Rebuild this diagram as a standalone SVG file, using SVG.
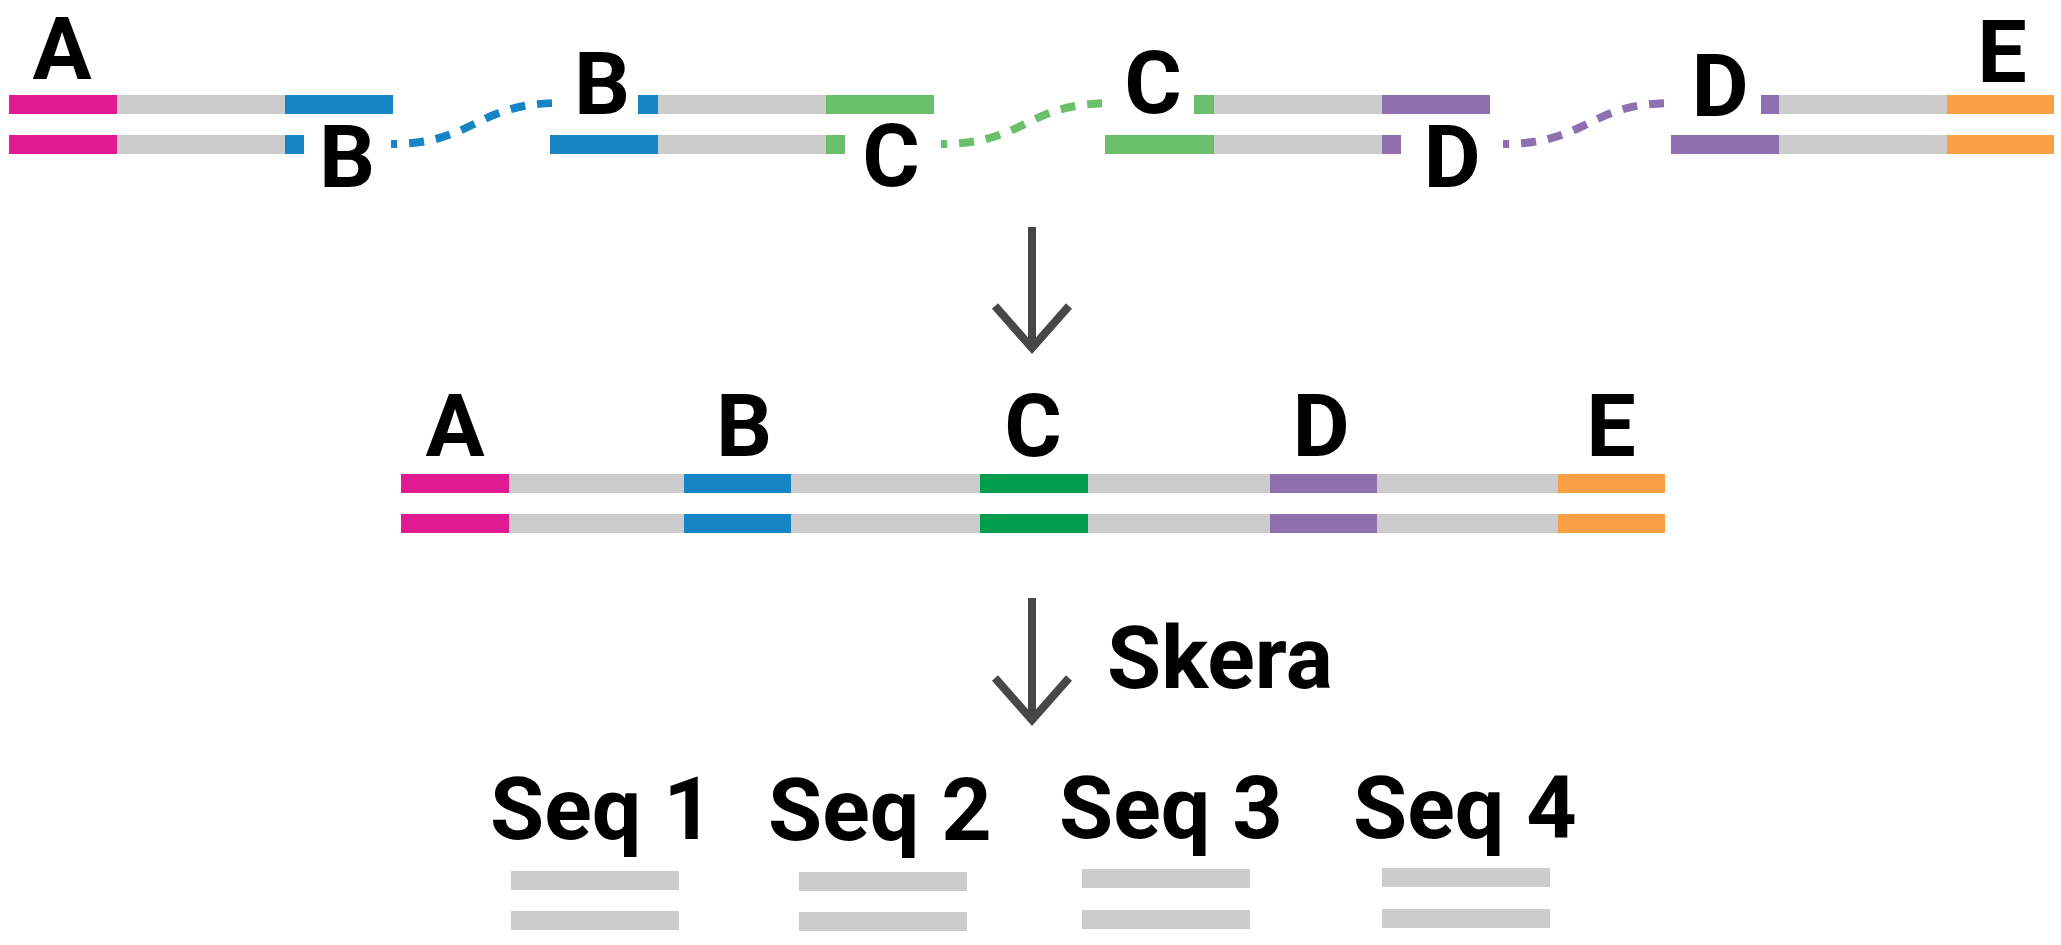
<svg xmlns="http://www.w3.org/2000/svg" width="2061" height="945" viewBox="0 0 2061 945">
<style>
.lbl{font-family:Roboto,"Liberation Sans",sans-serif;font-weight:700;font-size:88px;fill:#000;text-anchor:middle}
.lbs{font-family:Roboto,"Liberation Sans",sans-serif;font-weight:700;font-size:88px;fill:#000}
.g{fill:#cccccc}.m{fill:#e01a93}.b{fill:#1585c6}.lg{fill:#6abf6b}.dg{fill:#009d4f}.p{fill:#8e6fb0}.o{fill:#f8a043}
.dot{fill:none;stroke-width:8;stroke-dasharray:15 12;stroke-dashoffset:9}
.arr{fill:none;stroke:#474747;stroke-width:8}
</style>
<rect width="2061" height="945" fill="#fff"/>
<g id="strand1">
<rect class="m" x="9" y="95" width="108" height="19"/><rect class="g" x="117" y="95" width="168" height="19"/><rect class="b" x="285" y="95" width="108" height="19"/>
<rect class="m" x="9" y="135" width="108" height="19"/><rect class="g" x="117" y="135" width="168" height="19"/><rect class="b" x="285" y="135" width="19" height="19"/>
<text class="lbl" x="62" y="79">A</text>
<text class="lbl" x="347" y="187">B</text>
</g>
<g id="strand2">
<rect class="b" x="638" y="95" width="20" height="19"/><rect class="g" x="658" y="95" width="168" height="19"/><rect class="lg" x="826" y="95" width="108" height="19"/>
<rect class="b" x="550" y="135" width="108" height="19"/><rect class="g" x="658" y="135" width="168" height="19"/><rect class="lg" x="826" y="135" width="19" height="19"/>
<text class="lbl" x="602" y="114">B</text>
<text class="lbl" x="891" y="186">C</text>
</g>
<g id="strand3">
<rect class="lg" x="1194" y="95" width="20" height="19"/><rect class="g" x="1214" y="95" width="168" height="19"/><rect class="p" x="1382" y="95" width="108" height="19"/>
<rect class="lg" x="1105" y="135" width="109" height="19"/><rect class="g" x="1214" y="135" width="168" height="19"/><rect class="p" x="1382" y="135" width="19" height="19"/>
<text class="lbl" x="1153" y="113">C</text>
<text class="lbl" x="1452" y="187">D</text>
</g>
<g id="strand4">
<rect class="p" x="1761" y="95" width="18" height="19"/><rect class="g" x="1779" y="95" width="168" height="19"/><rect class="o" x="1947" y="95" width="107" height="19"/>
<rect class="p" x="1671" y="135" width="108" height="19"/><rect class="g" x="1779" y="135" width="168" height="19"/><rect class="o" x="1947" y="135" width="107" height="19"/>
<text class="lbl" x="1720" y="116">D</text>
<text class="lbl" x="2002" y="82">E</text>
</g>
<g id="merged">
<rect class="m" x="401" y="474" width="108" height="19"/><rect class="g" x="509" y="474" width="175" height="19"/><rect class="b" x="684" y="474" width="107" height="19"/><rect class="g" x="791" y="474" width="189" height="19"/><rect class="dg" x="980" y="474" width="108" height="19"/><rect class="g" x="1088" y="474" width="182" height="19"/><rect class="p" x="1270" y="474" width="107" height="19"/><rect class="g" x="1377" y="474" width="181" height="19"/><rect class="o" x="1558" y="474" width="107" height="19"/>
<rect class="m" x="401" y="514" width="108" height="19"/><rect class="g" x="509" y="514" width="175" height="19"/><rect class="b" x="684" y="514" width="107" height="19"/><rect class="g" x="791" y="514" width="189" height="19"/><rect class="dg" x="980" y="514" width="108" height="19"/><rect class="g" x="1088" y="514" width="182" height="19"/><rect class="p" x="1270" y="514" width="107" height="19"/><rect class="g" x="1377" y="514" width="181" height="19"/><rect class="o" x="1558" y="514" width="107" height="19"/>
<text class="lbl" x="455" y="456">A</text>
<text class="lbl" x="744" y="456">B</text>
<text class="lbl" x="1033" y="456">C</text>
<text class="lbl" x="1321" y="456">D</text>
<text class="lbl" x="1611" y="456">E</text>
</g>
<g id="seq1"><text class="lbs" x="490" y="839">Seq 1</text><rect class="g" x="511" y="871" width="168" height="19"/><rect class="g" x="511" y="911" width="168" height="19"/></g>
<g id="seq2"><text class="lbs" x="768" y="840">Seq 2</text><rect class="g" x="799" y="872" width="168" height="19"/><rect class="g" x="799" y="912" width="168" height="19"/></g>
<g id="seq3"><text class="lbs" x="1059" y="838">Seq 3</text><rect class="g" x="1082" y="869" width="168" height="19"/><rect class="g" x="1082" y="910" width="168" height="19"/></g>
<g id="seq4"><text class="lbs" x="1353" y="838">Seq 4</text><rect class="g" x="1382" y="868" width="168" height="19"/><rect class="g" x="1382" y="909" width="168" height="19"/></g>
<g id="skera"><text class="lbs" x="1107" y="688">Skera</text></g>
<g id="connectors">
<path class="dot" stroke="#1585c6" d="M391 144 C475 144 475 103 560 103"/>
<path class="dot" stroke="#6abf6b" d="M941 144 C1026 144 1026 103 1111 103"/>
<path class="dot" stroke="#8e6fb0" d="M1503 144 C1588 144 1588 103 1672 103"/>
<path class="arr" d="M1032 227 V350"/>
<polyline class="arr" points="995,306 1032,348 1069,306"/>
<path class="arr" d="M1032 598 V722"/>
<polyline class="arr" points="995,678 1032,720 1069,678"/>
</g>
</svg>
